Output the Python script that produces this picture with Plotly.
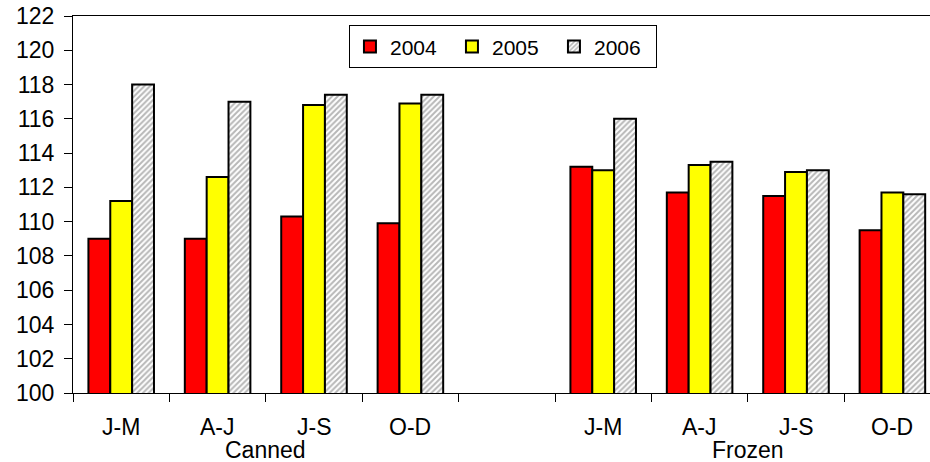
import plotly.graph_objects as go

periods = ["J-M", "A-J", "J-S", "O-D"]
groups = ["Canned", "Frozen"]
years = ["2004", "2005", "2006"]

canned_2004 = [109.0, 109.0, 110.3, 109.9]
canned_2005 = [111.2, 112.6, 116.8, 116.9]
canned_2006 = [118.0, 117.0, 117.4, 117.4]
frozen_2004 = [113.2, 111.7, 111.5, 109.5]
frozen_2005 = [113.0, 113.3, 112.9, 111.7]
frozen_2006 = [116.0, 113.5, 113.0, 111.6]

y_ticks = list(range(100, 123, 2))

# x positions: canned slots 0..3, empty slot 4, frozen slots 5..8
x_canned = list(range(len(periods)))
x_frozen = [len(periods) + 1 + i for i in range(len(periods))]
xs = x_canned + x_frozen

series = {
    "2004": canned_2004 + frozen_2004,
    "2005": canned_2005 + frozen_2005,
    "2006": canned_2006 + frozen_2006,
}

FONT = "Liberation Sans, Arial, sans-serif"
fig = go.Figure()
fig.add_trace(go.Bar(x=xs, y=series["2004"], name="2004",
                     marker=dict(color="#ff0000", line=dict(color="black", width=2))))
fig.add_trace(go.Bar(x=xs, y=series["2005"], name="2005",
                     marker=dict(color="#ffff00", line=dict(color="black", width=2))))
fig.add_trace(go.Bar(x=xs, y=series["2006"], name="2006",
                     marker=dict(color="white", line=dict(color="black", width=2),
                                 pattern=dict(shape="/", fgcolor="#707070", bgcolor="white",
                                              size=4, solidity=0.5))))

n_slots = 2 * len(periods) + 1
annotations = []
for i, p in enumerate(periods):
    for xv in (x_canned[i], x_frozen[i]):
        annotations.append(dict(x=xv, y=-0.091, xref="x", yref="paper", text=p,
                                showarrow=False, yanchor="middle",
                                font=dict(size=23, color="black", family=FONT)))
for g, xsub in zip(groups, (x_canned, x_frozen)):
    annotations.append(dict(x=sum(xsub) / len(xsub), y=-0.152, xref="x", yref="paper", text=g,
                            showarrow=False, yanchor="middle",
                            font=dict(size=23, color="black", family=FONT)))

fig.update_layout(
    width=930, height=462,
    margin=dict(l=73, r=0, t=16, b=69),
    paper_bgcolor="white", plot_bgcolor="white",
    barmode="group", bargap=0.32, bargroupgap=0,
    font=dict(family=FONT, size=23, color="black"),
    showlegend=True,
    legend=dict(orientation="h", x=0.322, y=0.975, xanchor="left", yanchor="top",
                bordercolor="black", borderwidth=1, bgcolor="white",
                font=dict(size=21, family=FONT, color="black"),
                itemwidth=30,
                entrywidth=57, entrywidthmode="pixels", traceorder="normal"),
    annotations=annotations,
    xaxis=dict(range=[-0.5, -0.5 + 857 / 96.4], tickmode="array",
               tickvals=[i - 0.5 for i in range(n_slots + 1)],
               showticklabels=False, ticks="outside", ticklen=8, tickcolor="black",
               showline=True, linecolor="black", linewidth=1, mirror=True,
               showgrid=False, zeroline=False, fixedrange=True),
    yaxis=dict(range=[100, 122], tickmode="array", tickvals=y_ticks,
               ticks="outside", ticklen=8, tickcolor="black",
               showline=True, linecolor="black", linewidth=1,
               showgrid=False, zeroline=False, ticklabelstandoff=5,
               tickfont=dict(size=23, family=FONT, color="black")),
)

fig.write_html("out.html")
